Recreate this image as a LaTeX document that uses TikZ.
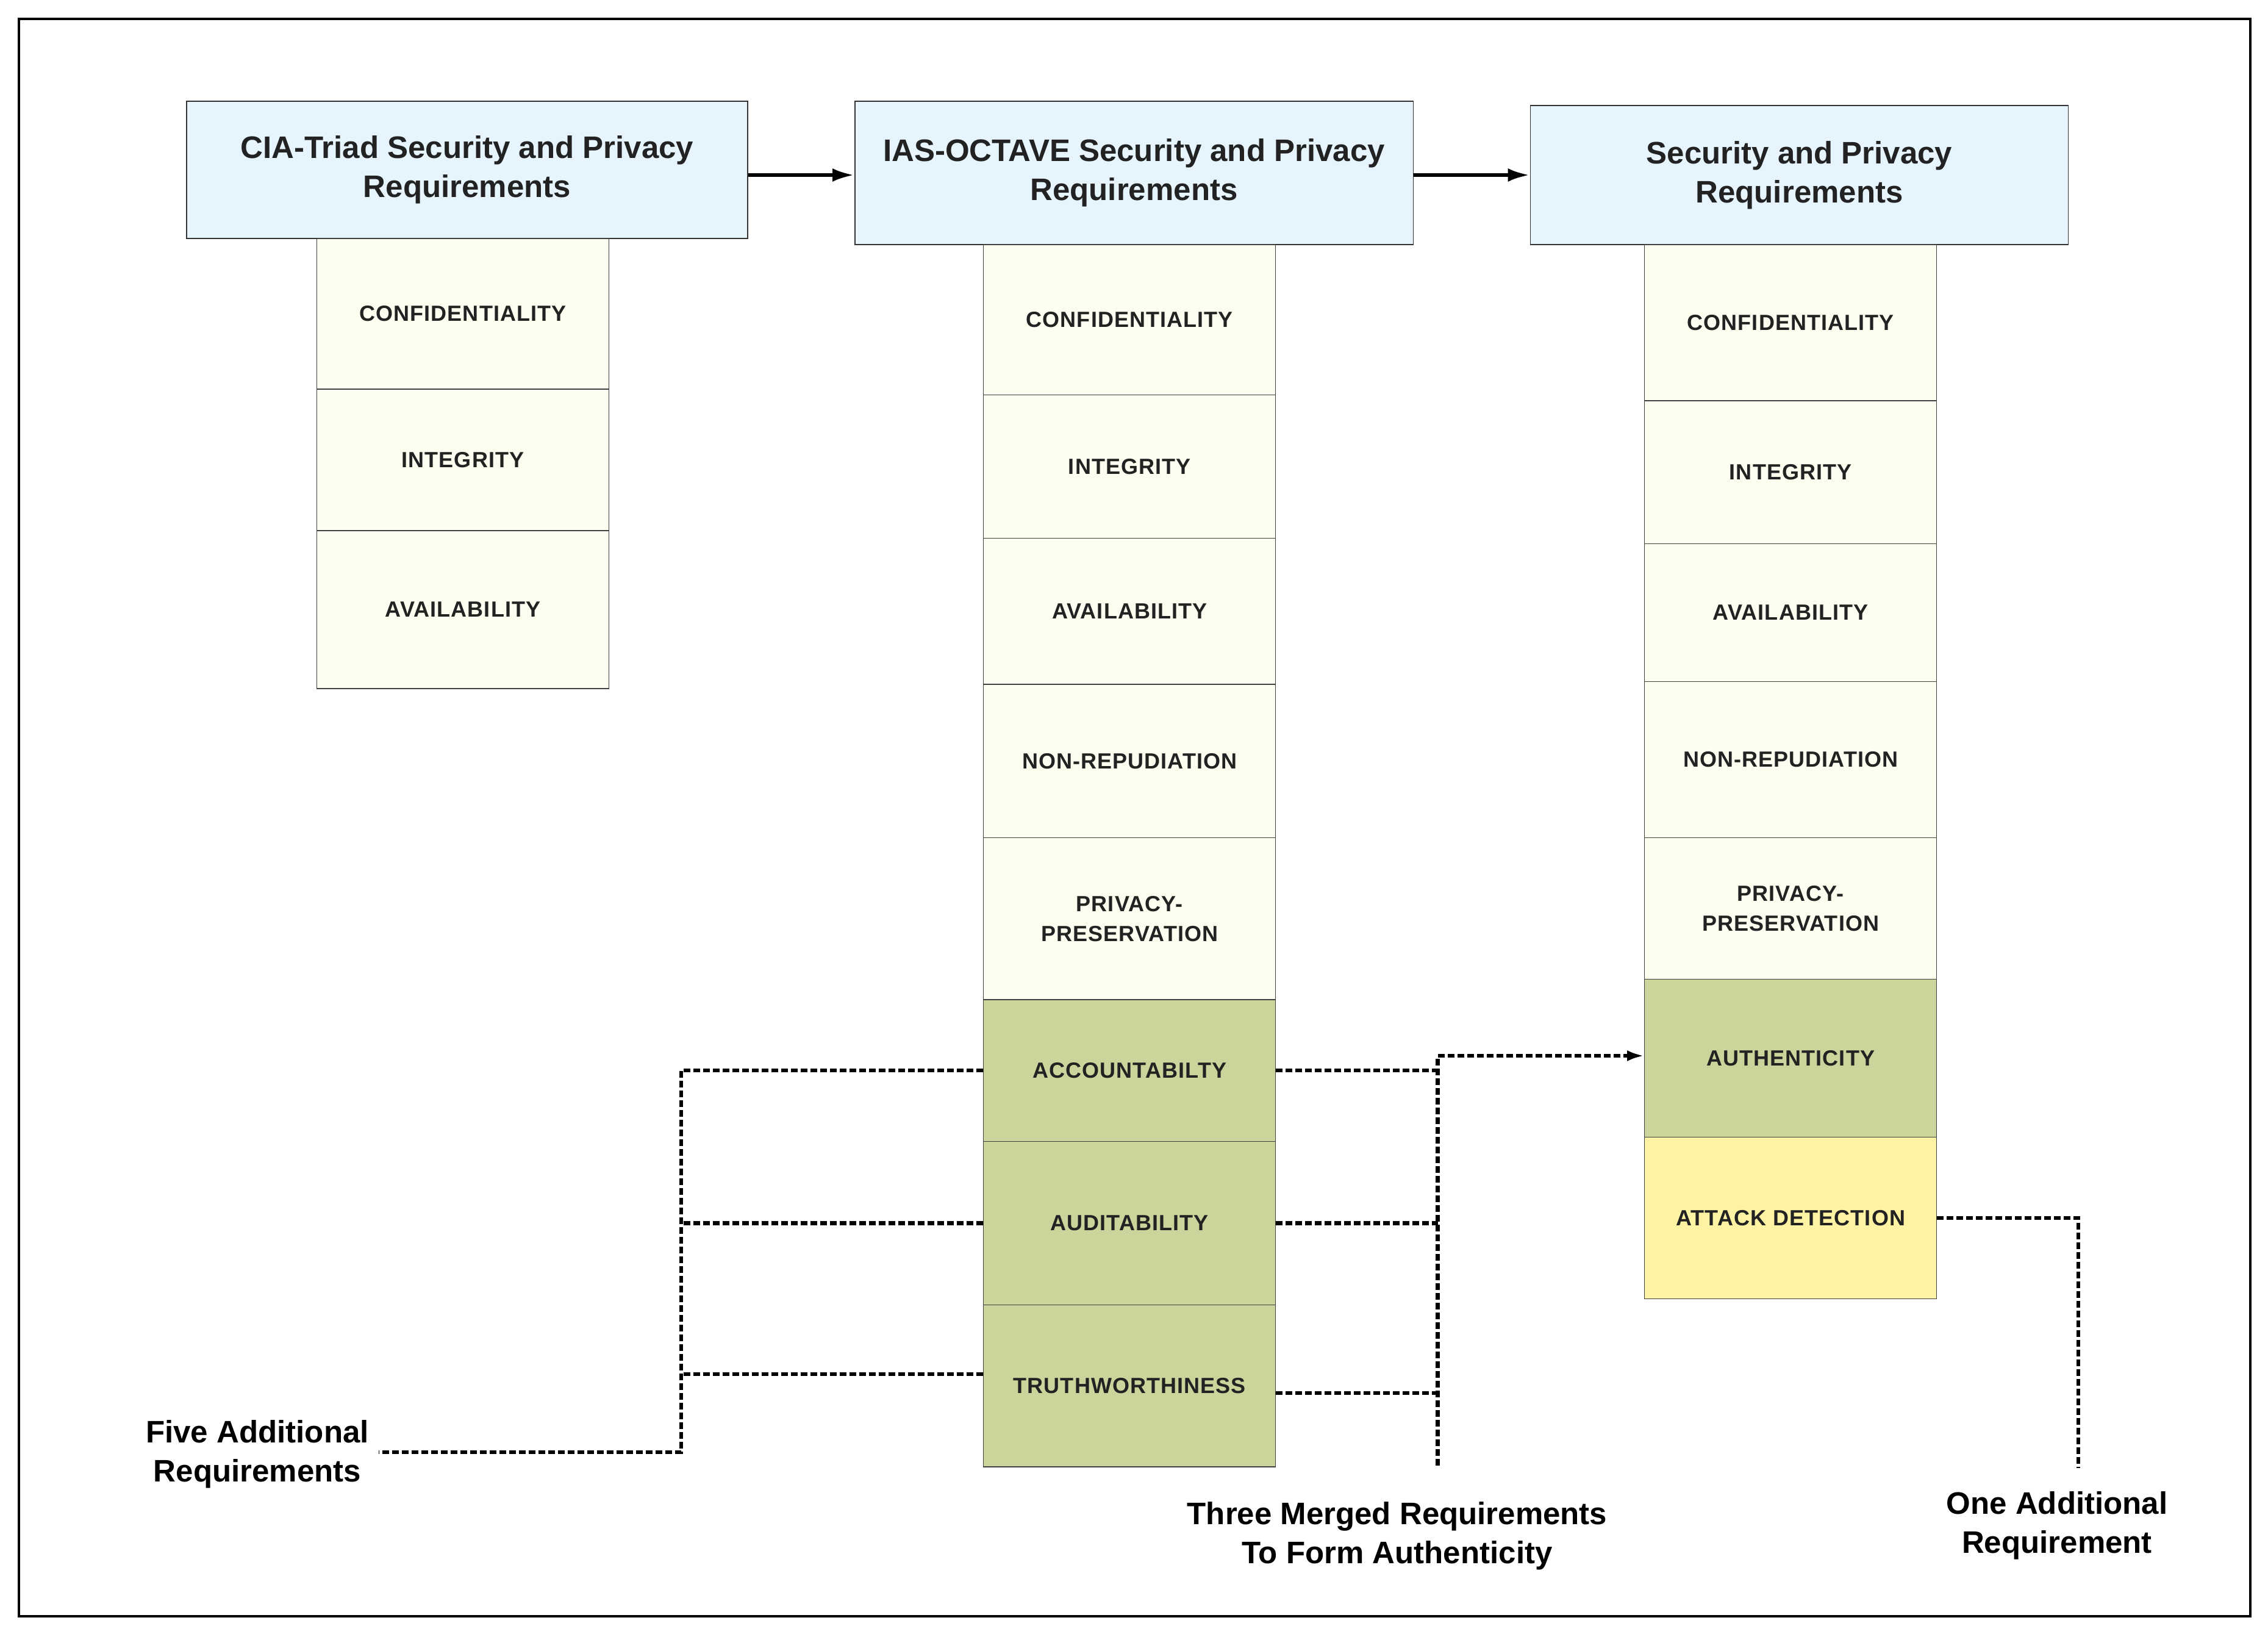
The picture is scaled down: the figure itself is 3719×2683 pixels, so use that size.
\documentclass[tikz,border=0pt]{standalone}
\usepackage{fontspec}
\setmainfont{Liberation Sans}
\newfontfamily\cellfont[LetterSpace=3]{Liberation Sans}
\usetikzlibrary{arrows.meta}
\definecolor{hdr}{HTML}{E6F4FD}
\definecolor{cream}{HTML}{FDFEF0}
\definecolor{sage}{HTML}{CCD49C}
\definecolor{lemon}{HTML}{FEF3A3}
\definecolor{txt}{HTML}{222222}
\tikzset{
  hdrbox/.style={draw=black!80, line width=1.5pt, fill=hdr, align=center,
    font=\fontsize{51}{64}\selectfont\bfseries, text=txt, inner sep=0pt},
  cellbox/.style={draw=black!75, line width=1.2pt, align=center,
    font=\cellfont\fontsize{36}{49}\selectfont\bfseries, text=txt, inner sep=0pt,
    minimum width=479pt},
  outlbl/.style={align=center, font=\fontsize{51}{64}\selectfont\bfseries, text=black, inner sep=0pt},
  toparrow/.style={line width=6pt, -{Latex[length=36pt,width=22pt]}},
  dotline/.style={line width=6.5pt, dash pattern=on 11pt off 5pt},
  dottip/.style={-{Latex[length=28pt,width=18pt]}}
}
\begin{document}
\begin{tikzpicture}[x=1pt,y=-1pt]
\useasboundingbox (0,0) rectangle (3719,2683);
\draw[line width=3.5pt] (31,31) rectangle (3690,2650);

% CIA column
\node[hdrbox, minimum width=920pt, minimum height=225pt] (ciah) at (766,278.6) {CIA-Triad Security and Privacy\\Requirements};
\node[cellbox, fill=cream, minimum height=247pt] (cia1) at (759,514.5) {CONFIDENTIALITY};
\node[cellbox, fill=cream, minimum height=232pt] (cia2) at (759,754) {INTEGRITY};
\node[cellbox, fill=cream, minimum height=259pt] (cia3) at (759,999.5) {AVAILABILITY};

% IAS-OCTAVE column
\node[hdrbox, minimum width=915.5pt, minimum height=234.8pt] (iash) at (1859.5,283.4) {IAS-OCTAVE Security and Privacy\\Requirements};
\node[cellbox, fill=cream, minimum height=246.5pt] (ias1) at (1852.3,524.3) {CONFIDENTIALITY};
\node[cellbox, fill=cream, minimum height=234.8pt] (ias2) at (1852.3,764.9) {INTEGRITY};
\node[cellbox, fill=cream, minimum height=239.6pt] (ias3) at (1852.3,1002.1) {AVAILABILITY};
\node[cellbox, fill=cream, minimum height=251.4pt] (ias4) at (1852.3,1247.6) {NON-REPUDIATION};
\node[cellbox, fill=cream, minimum height=265.6pt] (ias5) at (1852.3,1506.1) {PRIVACY-\\PRESERVATION};
\node[cellbox, fill=sage, minimum height=232.4pt] (acc) at (1852.3,1755.1) {ACCOUNTABILTY};
\node[cellbox, fill=sage, minimum height=268.1pt] (aud) at (1852.3,2005.4) {AUDITABILITY};
\node[cellbox, fill=sage, minimum height=265.6pt] (tru) at (1852.3,2272.2) {TRUTHWORTHINESS};

% Security and Privacy column
\node[hdrbox, minimum width=882.3pt, minimum height=227.9pt] (sph) at (2950.5,287) {Security and Privacy\\Requirements};
\node[cellbox, fill=cream, minimum height=256pt] (sp1) at (2936.2,529) {CONFIDENTIALITY};
\node[cellbox, fill=cream, minimum height=234.8pt] (sp2) at (2936.2,774.4) {INTEGRITY};
\node[cellbox, fill=cream, minimum height=225.3pt] (sp3) at (2936.2,1004.5) {AVAILABILITY};
\node[cellbox, fill=cream, minimum height=256.2pt] (sp4) at (2936.2,1245.2) {NON-REPUDIATION};
\node[cellbox, fill=cream, minimum height=232.4pt] (sp5) at (2936.2,1489.5) {PRIVACY-\\PRESERVATION};
\node[cellbox, fill=sage, minimum height=258.5pt] (auth) at (2936.2,1735) {AUTHENTICITY};
\node[cellbox, fill=lemon, minimum height=265.7pt] (att) at (2936.2,1997) {ATTACK DETECTION};

% top arrows
\draw[toparrow] (ciah.east |- sph.center) -- (iash.west |- sph.center);
\draw[toparrow] (iash.east |- sph.center) -- (sph.west);

% outer labels
\node[outlbl] (five) at (422,2384) {Five Additional\\Requirements};
\node[outlbl] (three) at (2291,2518) {Three Merged Requirements\\To Form Authenticity};
\node[outlbl] (one) at (3373,2501) {One Additional\\Requirement};

% left dotted bus
\coordinate (lbus) at (1117,2381);
\coordinate (fiveend) at (621,2381);
\coordinate (tl) at ([yshift=19pt]tru.west);
\draw[dotline] (acc.west) -- (acc.west -| lbus) -- (lbus) -- (fiveend);
\draw[dotline] (aud.west) -- (aud.west -| lbus);
\draw[dotline] (tl) -- (tl -| lbus);

% right dotted bus
\coordinate (rtop) at (2357.6,1731);
\coordinate (rbot) at (2357.6,2402.6);
\coordinate (tr) at ([yshift=-12pt]tru.east);
\draw[dotline] (acc.east) -- (acc.east -| rtop);
\draw[dotline] (aud.east) -- (aud.east -| rtop);
\draw[dotline] (tr) -- (tr -| rtop);
\draw[dotline, dottip] (rbot) -- (rtop) -- (rtop -| auth.west);

% attack detection
\coordinate (abus) at (3408,2407);
\draw[dotline] (att.east) -| (abus);
\end{tikzpicture}
\end{document}
